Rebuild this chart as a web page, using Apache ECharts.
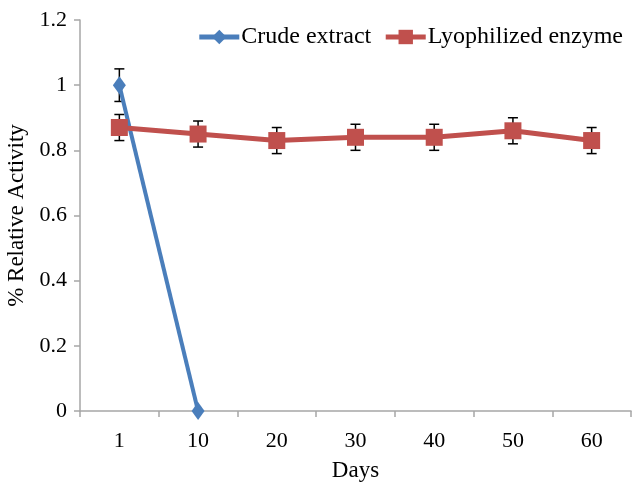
<!DOCTYPE html>
<html><head><meta charset="utf-8">
<script src="https://cdn.jsdelivr.net/npm/echarts@6/dist/echarts.min.js"></script>
<style>html,body{margin:0;padding:0;background:#fff}#c{width:632px;height:485px}</style>
</head><body><div id="c"></div>
<script>
const days = ['1','10','20','30','40','50','60'];
const crude = [1, 0];
const crudeErr = [0.05, null];
const lyo = [0.87, 0.85, 0.83, 0.84, 0.84, 0.86, 0.83];
const lyoErr = [0.04, 0.04, 0.04, 0.04, 0.04, 0.04, 0.04];
const yTicks = [0, 0.2, 0.4, 0.6, 0.8, 1, 1.2];

const font = '"Liberation Serif", "Times New Roman", serif';
const axisColor = '#a6a6a6';

function errData(vals, errs) {
  const out = [];
  vals.forEach((v, i) => { if (errs[i] != null) out.push([i, v - errs[i], v + errs[i]]); });
  return out;
}
function errRender(params, api) {
  const x = api.value(0);
  const lo = api.coord([x, api.value(1)]);
  const hi = api.coord([x, api.value(2)]);
  const w = 5;
  const st = { stroke: '#000', lineWidth: 1.5 };
  return { type: 'group', children: [
    { type: 'line', shape: { x1: lo[0], y1: lo[1], x2: hi[0], y2: hi[1] }, style: st },
    { type: 'line', shape: { x1: lo[0]-w, y1: lo[1], x2: lo[0]+w, y2: lo[1] }, style: st },
    { type: 'line', shape: { x1: hi[0]-w, y1: hi[1], x2: hi[0]+w, y2: hi[1] }, style: st }
  ]};
}

const chart = echarts.init(document.getElementById('c'));
chart.setOption({
  animation: false,
  backgroundColor: '#fff',
  grid: { left: 80, right: 1, top: 20, bottom: 74, containLabel: false, outerBoundsMode: 'none' },
  legend: {
    right: 4, top: 20, itemGap: 12, itemWidth: 40, itemHeight: 18,
    textStyle: { fontFamily: font, fontSize: 24, color: '#000', padding: [0, 0, 0, -3] },
    lineStyle: { width: 5 },
    data: ['Crude extract', 'Lyophilized enzyme']
  },
  xAxis: {
    type: 'category', data: days, boundaryGap: true,
    name: 'Days', nameLocation: 'middle', nameGap: 48,
    nameTextStyle: { fontFamily: font, fontSize: 23, color: '#000' },
    axisLine: { lineStyle: { color: axisColor, width: 1.5 } },
    axisTick: { show: true, alignWithLabel: false, length: 6, lineStyle: { color: axisColor, width: 1.5 } },
    axisLabel: { fontFamily: font, fontSize: 22, color: '#000', margin: 19 },
    splitLine: { show: false }
  },
  yAxis: {
    type: 'value', min: 0, max: 1.2, interval: 0.2,
    name: '% Relative Activity', nameLocation: 'middle', nameGap: 46, nameRotate: 90,
    nameTextStyle: { fontFamily: font, fontSize: 23, color: '#000' },
    axisLine: { show: true, lineStyle: { color: axisColor, width: 1.5 } },
    axisTick: { show: true, length: 6, lineStyle: { color: axisColor, width: 1.5 } },
    axisLabel: { fontFamily: font, fontSize: 22, color: '#000', margin: 13,
      formatter: v => { const t = yTicks.find(y => Math.abs(y - v) < 1e-9); return t === undefined ? '' : String(t); } },
    splitLine: { show: false }
  },
  series: [
    { name: 'Crude extract', type: 'line', data: crude, z: 3,
      symbol: 'diamond', symbolSize: [13, 18],
      lineStyle: { color: '#4a7ebb', width: 4 },
      itemStyle: { color: '#4a7ebb' } },
    { name: 'Lyophilized enzyme', type: 'line', data: lyo, z: 3,
      symbol: 'rect', symbolSize: 17,
      lineStyle: { color: '#c0504d', width: 5 },
      itemStyle: { color: '#c0504d' } },
    { type: 'custom', renderItem: errRender, data: errData(crude, crudeErr), z: 2,
      encode: { x: 0, y: [1, 2] } },
    { type: 'custom', renderItem: errRender, data: errData(lyo, lyoErr), z: 2,
      encode: { x: 0, y: [1, 2] } }
  ]
});
</script></body></html>
